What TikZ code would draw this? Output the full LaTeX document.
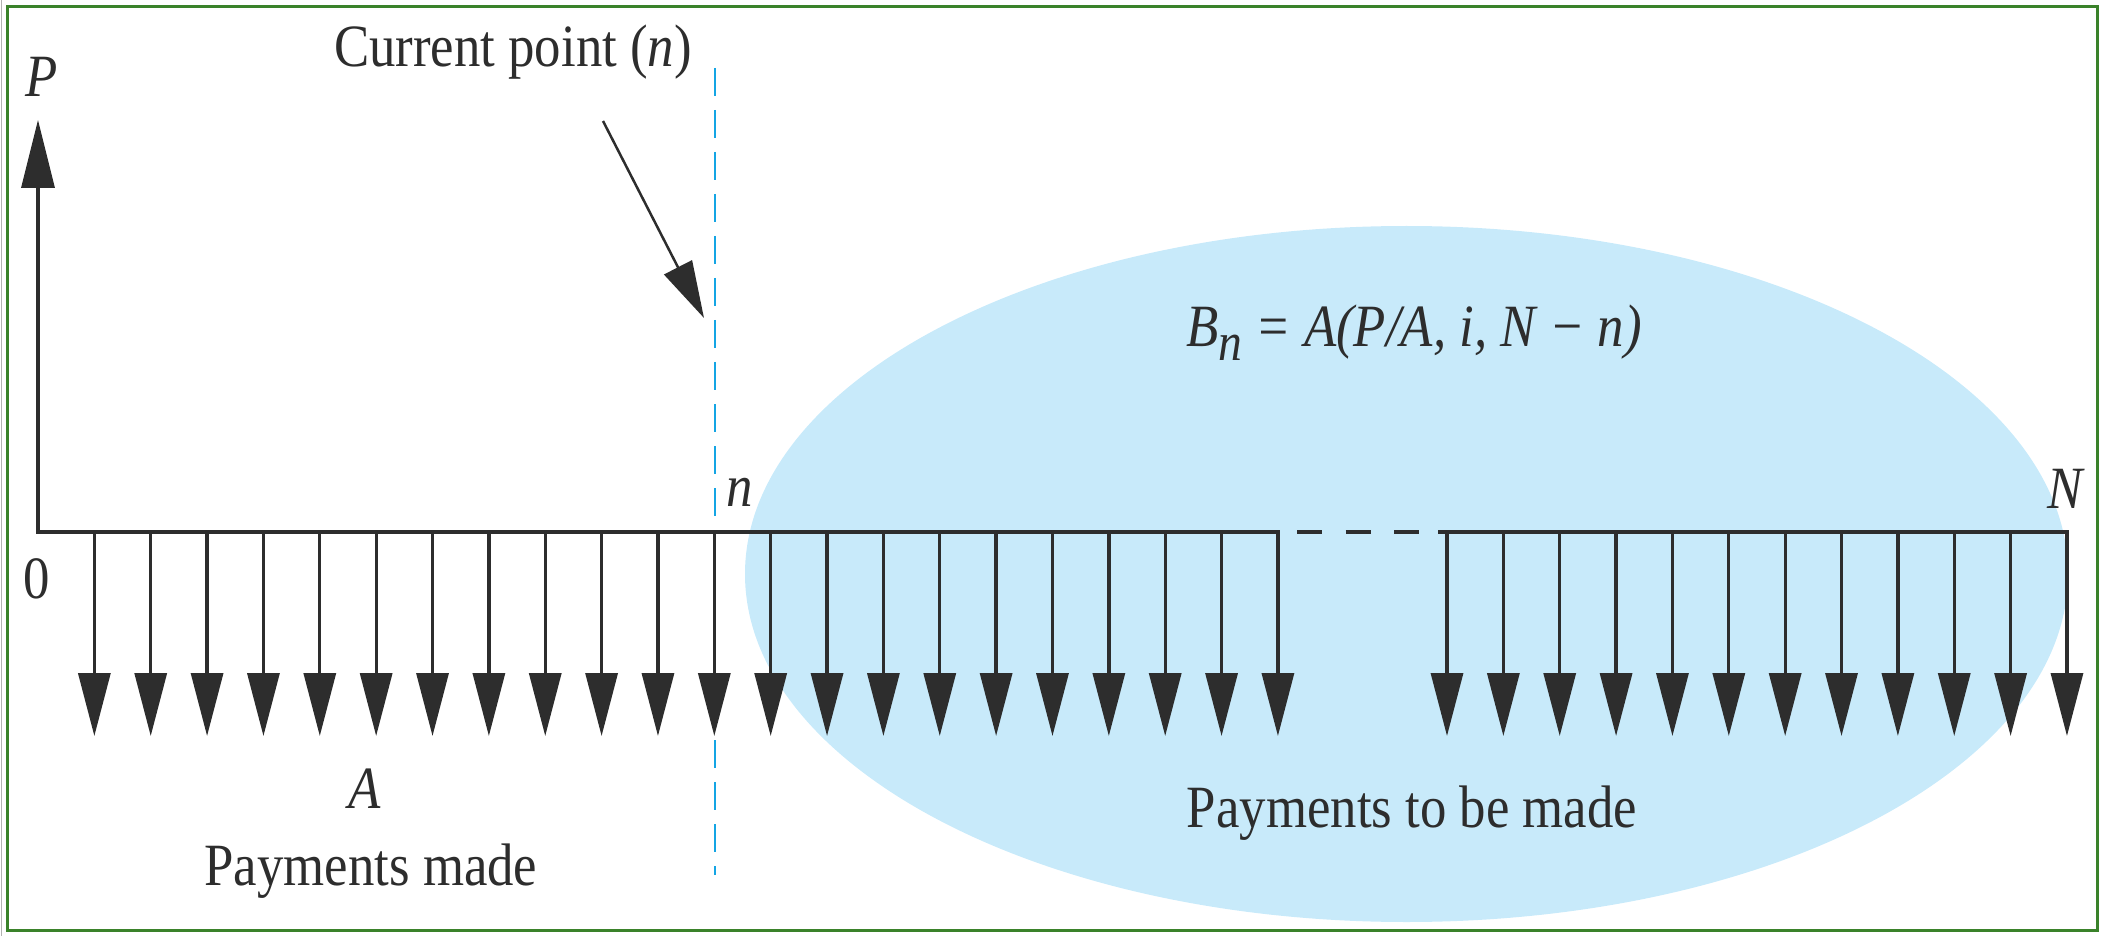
\documentclass[tikz,border=0pt]{standalone}
\usepackage{fontspec}
\setmainfont{Liberation Serif}[FakeStretch=0.88]
\usetikzlibrary{arrows.meta}
\definecolor{ink}{RGB}{45,45,45}
\definecolor{ellfill}{RGB}{200,234,250}
\definecolor{cutblue}{RGB}{20,165,228}
\definecolor{framegreen}{RGB}{58,130,42}
\begin{document}
\begin{tikzpicture}[x=0.5pt,y=-0.5pt,
  lbl/.style={font=\fontsize{30}{36}\selectfont, text=ink, inner sep=0pt, anchor=base},
  payline/.style={line width=1.65pt, draw=ink, line join=miter},
  payarrow/.style={payline, -{Triangle[length=31.5pt,width=16pt]}},
]
\useasboundingbox (0,0) rectangle (2105,936);
% frame
\draw[gray!60, line width=0.6pt] (1.5,0) -- (1.5,936);
\draw[framegreen, line width=1.5pt] (7,7) rectangle (2097,930);
% shaded region of remaining payments
\fill[ellfill] (1406.5,574) ellipse [x radius=330.75pt, y radius=174pt];
% current point marker
\coordinate (cuttop) at (715,68);
\coordinate (cutbot) at (715,875);
\draw[cutblue, line width=1.35pt, dash pattern=on 14pt off 7pt] (cuttop) -- (cutbot);
% time axis and P arrow
\coordinate (o) at (38,532);
\coordinate (ptip) at (38,120);
\foreach \k in {1,...,36} {
  \coordinate (b\k) at ({38+56.36*\k},532);
  \coordinate (t\k) at ({38+56.36*\k},736);
}
\coordinate (rstart) at (1438,532);
\coordinate (g1) at (1297,532);
\coordinate (g2) at (1419,532);
\draw[payline, {Triangle[length=34pt,width=16.5pt]}-{Triangle[length=31.5pt,width=16pt]}] (ptip) -- (o) -- (b22) -- (t22);
\foreach \k in {1,...,21} { \draw[payarrow] (b\k) -- (t\k); }
\draw[payline, dash pattern=on 12.5pt off 11.75pt] (g1) -- (g2);
\draw[payarrow] (rstart) -- (b36) -- (t36);
\foreach \k in {25,...,35} { \draw[payarrow] (b\k) -- (t\k); }
% pointer to current point
\coordinate (ps) at (603,121);
\coordinate (pe) at (704,318);
\draw[line width=1.25pt, ink, -{Triangle[length=28.5pt,width=15.5pt]}] (ps) -- (pe);
% labels
\node[lbl] (cur) at (513,67) {Current point (\textit{n})};
\node[lbl] (Plbl) at (42,97) {\textit{P}};
\node[lbl] (zero) at (37,598) {0};
\node[lbl] (nlbl) at (740,506) {\textit{n}};
\node[lbl] (Nlbl) at (2066,508) {\textit{N}};
\node[lbl] (Albl) at (365,808) {\textit{A}};
\node[lbl] (made) at (371,885) {Payments made};
\node[lbl] (tobe) at (1412,827) {Payments to be made};
\node[lbl] (Bn) at (1414,347) {{\itshape B\raisebox{-6.5pt}{\fontsize{27}{32}\selectfont n} = A(P/A, i, N − n)}};
\end{tikzpicture}
\end{document}
